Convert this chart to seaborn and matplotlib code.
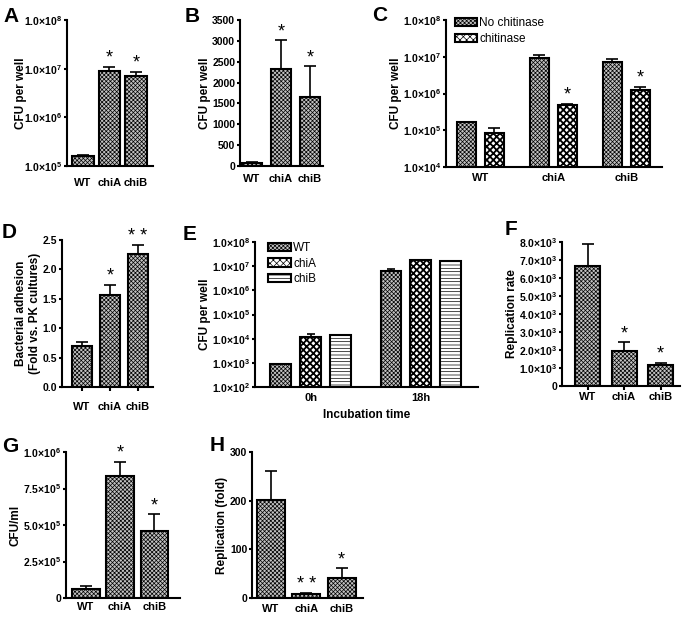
import matplotlib
matplotlib.use('Agg')
import matplotlib.pyplot as plt
import matplotlib.patches as mpatches
import seaborn as sns
import numpy as np
import pandas as pd

strains = ['WT', 'chiA', 'chiB']

# A: CFU per well (log)
a_mean = [1.6e5, 9.1e6, 7.2e6]
a_err = [1.0e4, 1.8e6, 1.5e6]
a_star = ['', '*', '*']

# B: CFU per well (linear)
b_mean = [60, 2330, 1650]
b_err = [38, 680, 740]
b_star = ['', '*', '*']

# C: with / without chitinase (log)
c_treat = ['No chitinase', 'chitinase']
c_nochit = [1.64e5, 9.4e6, 7.3e6]
c_nochit_err = [5e3, 1.6e6, 1.4e6]
c_nochit_star = ['', '', '']
c_chit = [8.6e4, 4.9e5, 1.24e6]
c_chit_err = [3.1e4, 3e4, 2.9e5]
c_chit_star = ['', '*', '*']

# D: bacterial adhesion
d_mean = [0.70, 1.56, 2.26]
d_err = [0.07, 0.18, 0.15]
d_star = ['', '*', '* *']

# E: incubation time (log)
e_times = ['0h', '18h']
e_wt = [9.2e2, 6.3e6]
e_wt_err = [0, 1.1e6]
e_chia = [1.17e4, 1.8e7]
e_chia_err = [3.3e3, 0]
e_chib = [1.42e4, 1.6e7]
e_chib_err = [3e2, 0]

# F: replication rate
f_mean = [6650, 1920, 1150]
f_err = [1220, 520, 130]
f_star = ['', '*', '*']

# G: CFU/ml
g_mean = [6.1e4, 8.36e5, 4.61e5]
g_err = [2.3e4, 9.6e4, 1.14e5]
g_star = ['', '*', '*']

# H: replication (fold)
h_mean = [202, 8, 41]
h_err = [58, 3, 20]
h_star = ['', '* *', '*']

sns.set_style('ticks', rc={'axes.edgecolor': 'black', 'text.color': 'black',
                           'xtick.color': 'black', 'ytick.color': 'black',
                           'axes.labelcolor': 'black'})
plt.rcParams['font.family'] = ['Liberation Sans', 'DejaVu Sans']
plt.rcParams['font.weight'] = 'bold'
plt.rcParams['axes.labelweight'] = 'bold'
plt.rcParams['mathtext.fontset'] = 'custom'
plt.rcParams['mathtext.bf'] = 'Liberation Sans:bold'
plt.rcParams['mathtext.rm'] = 'Liberation Sans:bold'
plt.rcParams['hatch.linewidth'] = 0.5

GREY = '#c2c2c2'
FINE = 'xxxxxxxx'
CHECK = 'xxxxx'
STRIPE = '-----'

W, H = 686, 617
fig = plt.figure(figsize=(W / 100, H / 100), dpi=100)


def add_ax(l, t, r, b):
    return fig.add_axes([l / W, 1 - b / H, (r - l) / W, (b - t) / H])


def sci(m, e):
    return m + '×10$^{\\mathbf{' + str(e) + '}}$'


def set_fill(p, face, hatch):
    p.set_facecolor(face)
    p.set_hatch(hatch)
    if hatch == CHECK and hasattr(p, 'set_hatch_linewidth'):
        p.set_hatch_linewidth(1.3)


def style_ax(ax, ylabel, xlim, yticks, ylabels, ylim, xtick_len=0, xpad=4, log=False,
             labelpad=1):
    sns.despine(ax=ax)
    for s in ['left', 'bottom']:
        ax.spines[s].set_linewidth(1.5)
    if log:
        ax.set_yscale('log', nonpositive='clip')
    ax.set_xlim(xlim)
    ax.set_yticks(yticks)
    ax.set_yticklabels(ylabels)
    ax.set_ylim(ylim)
    ax.minorticks_off()
    ax.tick_params(axis='y', length=2.5, width=1.5, pad=1, labelsize=7.5)
    ax.tick_params(axis='x', length=xtick_len, width=1.5, pad=xpad, labelsize=8)
    ax.set_ylabel(ylabel, fontsize=8.5, labelpad=labelpad)
    ax.set_xlabel('')


def err_and_stars(ax, df, cap=4):
    for p in ax.patches:
        h = p.get_height()
        row = df.loc[np.isclose(df['value'], h, rtol=1e-6)].iloc[0]
        x = p.get_x() + p.get_width() / 2
        if row['err'] > 0:
            ax.errorbar(x, h, yerr=[[0], [row['err']]], fmt='none', ecolor='black',
                        elinewidth=1.2, capsize=cap, capthick=1.2, zorder=0.5)
        if row['star']:
            ax.annotate(row['star'], (x, h + row['err']), xytext=(0, 0),
                        textcoords='offset points', ha='center', va='bottom',
                        fontsize=13, fontweight='normal')


def bar_panel(box, means, errs, stars, ylabel, xlim, width, yticks, ylabels, ylim,
              log=False, xtick_len=0, xpad=4, labelpad=1):
    ax = add_ax(*box)
    df = pd.DataFrame({'strain': strains, 'value': means, 'err': errs, 'star': stars})
    sns.barplot(data=df, x='strain', y='value', ax=ax, color=GREY, saturation=1,
                width=width, edgecolor='black', linewidth=1.5, hatch=FINE,
                errorbar=None)
    err_and_stars(ax, df)
    style_ax(ax, ylabel, xlim, yticks, ylabels, ylim, xtick_len, xpad, log, labelpad)
    return ax


# A
bar_panel((67, 20, 153, 166), a_mean, a_err, a_star, 'CFU per well', (-0.6, 2.64), 0.8,
          [1e5, 1e6, 1e7, 1e8], [sci('1.0', e) for e in [5, 6, 7, 8]], (1e5, 1e8),
          log=True, xpad=9, labelpad=-2)

# B
bar_panel((240, 20, 323, 166), b_mean, b_err, b_star, 'CFU per well', (-0.41, 2.45), 0.7,
          list(range(0, 3501, 500)), [str(v) for v in range(0, 3501, 500)], (0, 3500),
          xpad=6)

# C
axc = add_ax(446, 20, 662, 167)
c_df = pd.DataFrame({
    'strain': strains * 2,
    'treat': [c_treat[0]] * 3 + [c_treat[1]] * 3,
    'value': c_nochit + c_chit,
    'err': c_nochit_err + c_chit_err,
    'star': c_nochit_star + c_chit_star,
})
sns.barplot(data=c_df, x='strain', y='value', hue='treat', ax=axc,
            palette={c_treat[0]: GREY, c_treat[1]: 'white'}, saturation=1,
            width=0.76, gap=0.32, edgecolor='black', linewidth=1.5,
            errorbar=None, legend=False)
c_styles = {c_treat[0]: (GREY, FINE), c_treat[1]: ('white', CHECK)}
for p in axc.patches:
    row = c_df.loc[np.isclose(c_df['value'], p.get_height(), rtol=1e-6)].iloc[0]
    set_fill(p, *c_styles[row['treat']])
err_and_stars(axc, c_df)
style_ax(axc, 'CFU per well', (-0.47, 2.49), [1e4, 1e5, 1e6, 1e7, 1e8],
         [sci('1.0', e) for e in [4, 5, 6, 7, 8]], (1e4, 1e8), xpad=4, log=True)
handles = []
for t in c_treat:
    hp = mpatches.Patch(edgecolor='black', linewidth=1.5, label=t)
    set_fill(hp, *c_styles[t])
    handles.append(hp)
axc.legend(handles=handles, loc='upper left', bbox_to_anchor=(0.04, 1.02),
           frameon=False, borderpad=0, borderaxespad=0, handlelength=1.9,
           handleheight=0.7, handletextpad=0.2, labelspacing=0.35,
           prop={'size': 8.5, 'weight': 'normal'})

# D
bar_panel((62, 240, 153, 387), d_mean, d_err, d_star,
          'Bacterial adhesion\n(Fold vs. PK cultures)', (-0.71, 2.54), 0.71,
          [0, 0.5, 1.0, 1.5, 2.0, 2.5], ['0.0', '0.5', '1.0', '1.5', '2.0', '2.5'],
          (0, 2.5), xtick_len=3, xpad=8)

# E
axe = add_ax(255, 242, 478, 387)
e_df = pd.DataFrame({
    'time': e_times * 3,
    'strain': ['WT'] * 2 + ['chiA'] * 2 + ['chiB'] * 2,
    'value': e_wt + e_chia + e_chib,
    'err': e_wt_err + e_chia_err + e_chib_err,
    'star': [''] * 6,
})
e_styles = {'WT': (GREY, FINE), 'chiA': ('white', CHECK), 'chiB': ('white', STRIPE)}
sns.barplot(data=e_df, x='time', y='value', hue='strain', ax=axe,
            palette={'WT': GREY, 'chiA': 'white', 'chiB': '#fefefe'}, saturation=1,
            width=0.81, gap=0.3, edgecolor='black', linewidth=1.5,
            errorbar=None, legend=False)
for p in axe.patches:
    row = e_df.loc[np.isclose(e_df['value'], p.get_height(), rtol=1e-6)].iloc[0]
    set_fill(p, *e_styles[row['strain']])
err_and_stars(axe, e_df, cap=3)
style_ax(axe, 'CFU per well', (-0.505, 1.52), [10.0 ** k for k in range(2, 9)],
         [sci('1.0', k) for k in range(2, 9)], (1e2, 1e8), xpad=4, log=True)
axe.set_xlabel('Incubation time', fontsize=8.5, labelpad=5)
handles = []
for s in strains:
    hp = mpatches.Patch(edgecolor='black', linewidth=1.5, label=s)
    set_fill(hp, *e_styles[s])
    handles.append(hp)
axe.legend(handles=handles, loc='upper left', bbox_to_anchor=(0.06, 1.0),
           frameon=False, borderpad=0, borderaxespad=0, handlelength=1.9,
           handleheight=0.7, handletextpad=0.2, labelspacing=0.3,
           prop={'size': 8.5, 'weight': 'normal'})

# F
bar_panel((562, 242, 680, 386), f_mean, f_err, f_star, 'Replication rate',
          (-0.7, 2.53), 0.68, [k * 1000 for k in range(0, 9)],
          ['0'] + [sci(f'{k}.0', 3) for k in range(1, 9)], (0, 8000),
          xtick_len=3, xpad=1.5)

# G
bar_panel((66, 452, 180, 598), g_mean, g_err, g_star, 'CFU/ml', (-0.58, 2.75), 0.8,
          [0, 2.5e5, 5e5, 7.5e5, 1e6],
          ['0', sci('2.5', 5), sci('5.0', 5), sci('7.5', 5), sci('1.0', 6)],
          (0, 1e6), xpad=3)

# H
bar_panel((252, 452, 363, 598), h_mean, h_err, h_star, 'Replication (fold)',
          (-0.53, 2.6), 0.8, [0, 100, 200, 300], ['0', '100', '200', '300'], (0, 300),
          xpad=4)

for letter, x, y in [('A', 3, 22), ('B', 185, 22), ('C', 372, 21), ('D', 2, 238),
                     ('E', 183, 240), ('F', 505, 235), ('G', 2, 452), ('H', 210, 451)]:
    fig.text(x / W, 1 - y / H, letter, fontsize=15, fontweight='bold',
             ha='left', va='baseline')

fig.savefig('out.png', dpi=100)
